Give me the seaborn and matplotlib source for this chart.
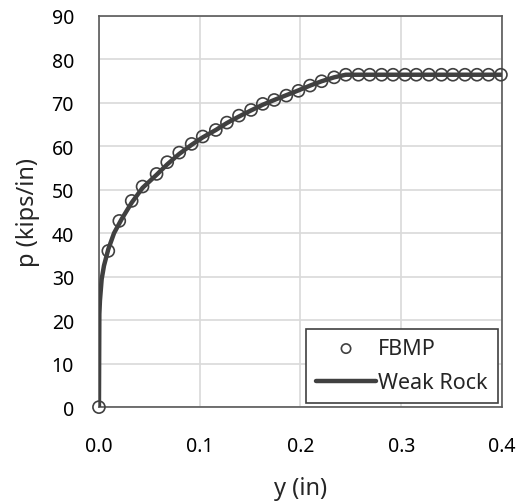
import numpy as np
import pandas as pd
import matplotlib
matplotlib.use("Agg")
import matplotlib.pyplot as plt
import seaborn as sns

# FBMP points
fbmp_y = [0.0, 0.0093, 0.0202, 0.0325, 0.0433, 0.0572, 0.0678, 0.0797, 0.0920,
          0.1030, 0.1160, 0.1270, 0.1390, 0.1510, 0.1626, 0.1740, 0.1860, 0.1980,
          0.2095, 0.2210, 0.2334, 0.2450, 0.2575, 0.2687, 0.2806, 0.2919, 0.3038,
          0.3150, 0.3275, 0.3400, 0.3513, 0.3633, 0.3752, 0.3867, 0.3990]
fbmp_p = [0.0, 35.9, 42.8, 47.4, 50.7, 53.6, 56.3, 58.5, 60.5,
          62.2, 63.7, 65.4, 67.0, 68.3, 69.7, 70.6, 71.6, 72.7,
          73.9, 74.9, 75.8, 76.4, 76.4, 76.4, 76.4, 76.4, 76.4,
          76.4, 76.4, 76.4, 76.4, 76.4, 76.4, 76.4, 76.4]

# Weak Rock curve
rock_y = [0.0, 0.0004, 0.0010, 0.0027, 0.0050, 0.0093, 0.0150, 0.0225, 0.0325,
          0.0433, 0.0572, 0.0678, 0.0797, 0.0920, 0.1030, 0.1160, 0.1270, 0.1390,
          0.1510, 0.1626, 0.1740, 0.1860, 0.1980, 0.2095, 0.2210, 0.2334, 0.2450, 0.4000]
rock_p = [0.0, 21.4, 24.5, 29.4, 32.5, 36.3, 40.0, 43.2, 47.0,
          50.4, 53.4, 55.8, 58.2, 60.3, 62.0, 63.7, 65.3, 66.8,
          68.2, 69.5, 70.6, 71.7, 72.8, 73.9, 74.9, 75.8, 76.4, 76.4]

df_fbmp = pd.DataFrame({"y": fbmp_y, "p": fbmp_p})
df_rock = pd.DataFrame({"y": rock_y, "p": rock_p})

sns.set_style("white")
plt.rcParams["font.family"] = ["Noto Sans", "DejaVu Sans"]

fig = plt.figure(figsize=(5.18, 5.02), dpi=100)
ax = fig.add_axes([0.191, 0.187, 0.778, 0.780])

gray = "#404040"
sns.scatterplot(data=df_fbmp, x="y", y="p", ax=ax, marker="o", s=75,
                facecolors="none", edgecolor=gray, linewidth=1.2,
                label="FBMP", zorder=3, clip_on=False)
sns.lineplot(data=df_rock, x="y", y="p", ax=ax, color=gray, linewidth=3.2,
             label="Weak Rock", zorder=4, sort=False, estimator=None)

ax.set_xlim(0, 0.4)
ax.set_ylim(0, 90)
ax.set_xticks([0.0, 0.1, 0.2, 0.3, 0.4])
ax.set_xticklabels(["0.0", "0.1", "0.2", "0.3", "0.4"])
ax.set_yticks(range(0, 91, 10))
ax.grid(True, color="#d9d9d9", linewidth=1.2)
ax.set_axisbelow(True)
for s in ax.spines.values():
    s.set_color("#595959")
    s.set_linewidth(1.2)
ax.tick_params(axis="y", labelsize=14, length=0, pad=18, colors="black")
ax.tick_params(axis="x", labelsize=14, length=0, pad=21, colors="black")
ax.set_xlabel("y (in)", fontsize=17, labelpad=14)
ax.set_ylabel("p (kips/in)", fontsize=17, labelpad=8)

leg = ax.legend(loc="lower right", fontsize=15.5, frameon=True, fancybox=False,
                borderaxespad=0.2, handlelength=2.8, handletextpad=0.1,
                borderpad=0.45, labelspacing=0.6)
leg.get_frame().set_edgecolor(gray)
leg.get_frame().set_linewidth(1.2)
leg.get_frame().set_alpha(1)
leg.legend_handles[0].set_sizes([45])

fig.savefig("out.png", dpi=100)
